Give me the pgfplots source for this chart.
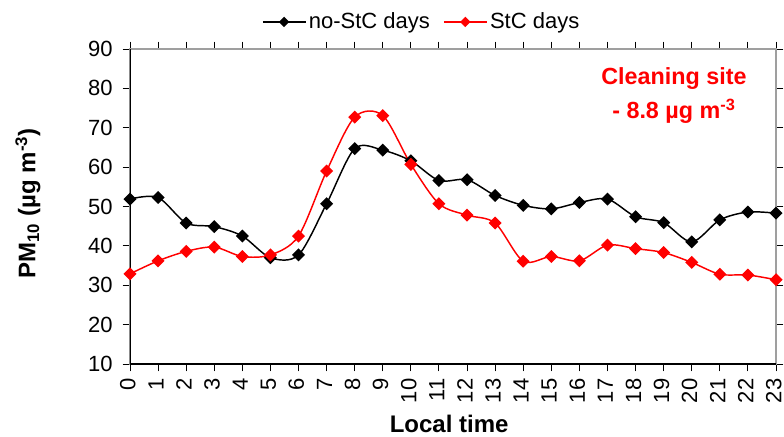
\documentclass[border=0pt]{standalone}
\usepackage{pgfplots}
\pgfplotsset{compat=1.18}
\usepackage{fontspec}
\setmainfont{Liberation Sans}
\begin{document}
\begin{tikzpicture}
\useasboundingbox (-97.5pt,-54pt) rectangle (490.5pt,273pt);
\begin{axis}[
  at={(0pt,0pt)}, anchor=south west,
  scale only axis, width=484.5pt, height=236.25pt,
  xmin=0, xmax=23, ymin=10, ymax=90,
  xtick={0,...,23}, ytick={10,20,...,90},
  tick align=outside, major tick length=5.5pt,
  tick style={black, line width=0.7pt},
  axis line style={gray!75, line width=0.8pt},
  /pgf/number format/assume math mode=true,
  ticklabel style={font=\fontsize{16.5}{18}\selectfont},
  xticklabel style={yshift=-2pt, xshift=-1.6pt, rotate=90, anchor=east, inner ysep=0pt},
  yticklabel style={xshift=-4pt},
  xlabel={\textbf{Local time}},
  ylabel={\textbf{PM\textsubscript{10} (µg m\textsuperscript{-3})}},
  label style={font=\fontsize{18}{20}\selectfont},
  xlabel style={at={(axis description cs:0.494,-0.19)}, anchor=center},
  ylabel style={at={(axis description cs:-0.158,0.51)}, anchor=center},
  legend columns=2,
  legend style={draw=none, fill=none, at={(0.452,1.086)}, anchor=center,
    font=\fontsize{16.5}{18}\selectfont,
    /tikz/every even column/.append style={column sep=8pt}},
  legend image code/.code={\draw[#1, mark size=2.2pt, mark repeat=2, mark phase=2] plot coordinates {(0pt,0pt) (16pt,0pt) (32pt,0pt)};},
]
\addplot[black, line width=1.1pt, smooth, tension=0.5, mark=square*, mark size=2.9pt, mark options={rotate=45, solid}]
coordinates {(0,51.9) (1,52.3) (2,45.8) (3,44.9) (4,42.5) (5,37.0) (6,37.7) (7,50.7) (8,64.7) (9,64.3) (10,61.6) (11,56.6) (12,56.8) (13,52.8) (14,50.3) (15,49.4) (16,51.0) (17,51.9) (18,47.4) (19,45.9) (20,41.0) (21,46.6) (22,48.6) (23,48.3)};
\addlegendentry{no-StC days}
\addplot[red, line width=1.1pt, smooth, tension=0.5, mark=square*, mark size=2.9pt, mark options={rotate=45, solid}]
coordinates {(0,32.9) (1,36.2) (2,38.6) (3,39.7) (4,37.3) (5,37.7) (6,42.5) (7,59.0) (8,72.7) (9,73.1) (10,60.7) (11,50.7) (12,47.8) (13,45.8) (14,36.1) (15,37.3) (16,36.2) (17,40.2) (18,39.3) (19,38.3) (20,35.8) (21,32.8) (22,32.6) (23,31.4)};
\addlegendentry{StC days}
\draw[black, line width=0.8pt] (rel axis cs:0,1) -- (rel axis cs:0,0) -- (rel axis cs:1,0);
\node[red, font=\fontsize{17.5}{26}\selectfont\bfseries, align=center] at (axis description cs:0.842,0.852) {Cleaning site\\- 8.8 µg m\textsuperscript{-3}};
\end{axis}
\end{tikzpicture}
\end{document}
